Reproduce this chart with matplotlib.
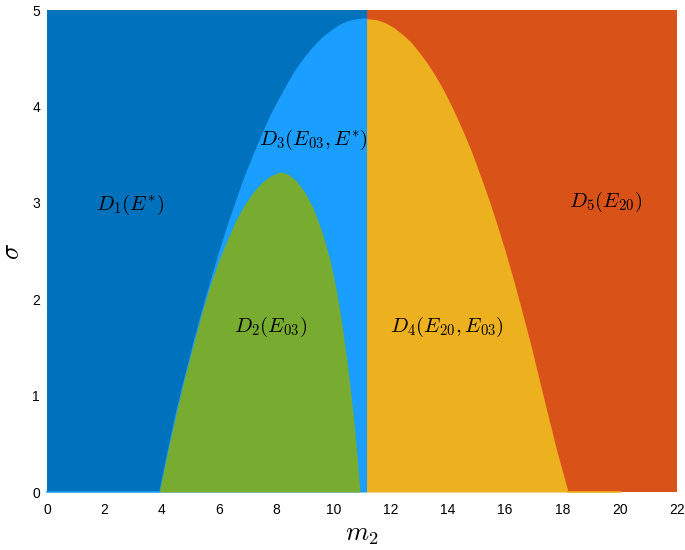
import numpy as np
import matplotlib
matplotlib.use("Agg")
import matplotlib.pyplot as plt

plt.rcParams['mathtext.fontset'] = 'cm'
plt.rcParams['font.family'] = ['Liberation Sans', 'DejaVu Sans']

# outer boundary, left half (light blue region D3)
outer_left_m = [3.9, 4.2, 4.5, 4.8, 5.1, 5.4, 5.7, 6.0, 6.3, 6.6, 6.9, 7.2, 7.5, 7.8, 8.1,
                8.4, 8.7, 9.0, 9.3, 9.6, 9.9, 10.2, 10.5, 10.8, 11.16]
outer_left_s = [0.0, 0.44, 0.85, 1.21, 1.56, 1.89, 2.20, 2.50, 2.78, 3.04, 3.29, 3.51, 3.72, 3.92, 4.09,
                4.25, 4.40, 4.52, 4.63, 4.72, 4.79, 4.85, 4.89, 4.91, 4.92]

# outer boundary, right half (yellow region D4)
outer_right_m = [11.16, 11.5, 11.8, 12.1, 12.4, 12.7, 13.0, 13.3, 13.6, 13.9, 14.2, 14.5, 14.8,
                 15.1, 15.4, 15.7, 16.0, 16.3, 16.6, 16.9, 17.2, 17.5, 17.8, 18.2]
outer_right_s = [4.91, 4.90, 4.87, 4.82, 4.75, 4.67, 4.56, 4.44, 4.30, 4.14, 3.96, 3.76, 3.55,
                 3.31, 3.06, 2.79, 2.50, 2.19, 1.86, 1.52, 1.15, 0.79, 0.43, 0.0]

# inner boundary (green region D2)
inner_m = [3.92, 4.2, 4.5, 4.8, 5.1, 5.4, 5.7, 6.0, 6.3, 6.6, 6.9, 7.2, 7.5, 7.8, 8.14,
           8.4, 8.7, 9.0, 9.3, 9.6, 9.88, 10.1, 10.3, 10.5, 10.7, 10.82, 10.93]
inner_s = [0.0, 0.40, 0.80, 1.18, 1.52, 1.85, 2.15, 2.40, 2.62, 2.82, 2.98, 3.11, 3.21, 3.28, 3.32,
           3.30, 3.23, 3.11, 2.94, 2.70, 2.41, 2.10, 1.74, 1.30, 0.78, 0.40, 0.0]

m_split = 11.16
m_max = 22
s_max = 5

labels = [r'$D_1(E^{*})$', r'$D_3(E_{03},E^{*})$', r'$D_2(E_{03})$', r'$D_4(E_{20},E_{03})$', r'$D_5(E_{20})$']
label_m = [2.9, 9.29, 7.82, 13.97, 19.52]
label_s = [2.98, 3.65, 1.71, 1.71, 3.01]

c_dark = '#0072BD'
c_light = '#1A9EFF'
c_green = '#77AC30'
c_yellow = '#EDB120'
c_orange = '#D95319'

fig = plt.figure(figsize=(6.85, 5.5), dpi=100)
ax = fig.add_axes([47/685, 58/550, 630/685, 482/550])

# background regions
ax.fill_between([0, m_split], 0, s_max, color=c_dark, lw=0)
ax.fill_between([m_split, m_max], 0, s_max, color=c_orange, lw=0)
ax.fill_between(outer_left_m, 0, outer_left_s, color=c_light, lw=0)
ax.fill_between(outer_right_m, 0, outer_right_s, color=c_yellow, lw=0)
ax.fill_between(inner_m, 0, inner_s, color=c_green, lw=0)

# thin edges along sigma = 0
ax.plot([0, 3.9], [0, 0], color=c_light, lw=1.2, clip_on=False)
ax.plot([18.2, 20.0], [0, 0], color=c_yellow, lw=1.2, clip_on=False)

for t, x, y in zip(labels, label_m, label_s):
    ax.text(x, y, t, fontsize=15, ha='center', va='center')

ax.set_xlim(0, m_max)
ax.set_ylim(0, s_max)
ax.set_xticks(range(0, 23, 2))
ax.set_yticks(range(0, 6))
ax.tick_params(axis='x', length=0, labelsize=10, pad=8)
ax.tick_params(axis='y', length=0, labelsize=10, pad=5)
for sp in ax.spines.values():
    sp.set_visible(False)

ax.set_xlabel(r'$m_2$', fontsize=19, labelpad=4)
ax.set_ylabel(r'$\sigma$', fontsize=19, labelpad=6)

fig.savefig('out.png', dpi=100)
